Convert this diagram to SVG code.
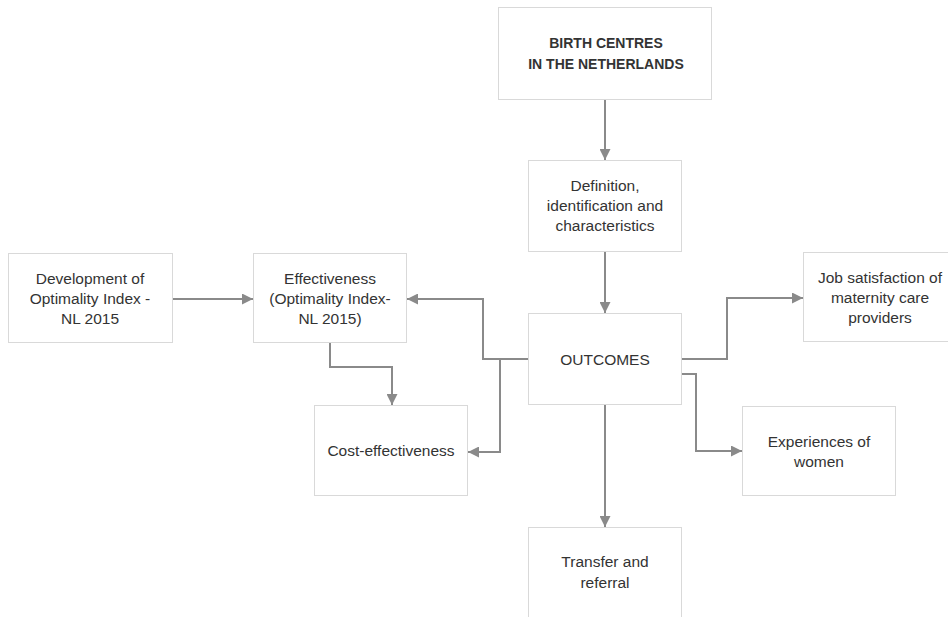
<svg xmlns="http://www.w3.org/2000/svg" width="948" height="617" viewBox="0 0 948 617">
<style>
.box{fill:#fff;stroke:#d9d9d9;stroke-width:1}
.t{font-family:"Liberation Sans",Arial,sans-serif;font-size:15.5px;fill:#333;text-anchor:middle}
.b{font-weight:bold;font-size:14px}
.c{fill:none;stroke:#8a8a8a;stroke-width:2}
</style>
<defs>
<marker id="ah" markerUnits="userSpaceOnUse" markerWidth="11" markerHeight="11" refX="10" refY="5" orient="auto" viewBox="0 0 10 10">
<path d="M0,0 L10,5 L0,10 z" fill="#8a8a8a"/>
</marker>
</defs>
<rect width="948" height="617" fill="#fff"/>
<g id="connectors">
<path class="c" d="M605,99 V160" marker-end="url(#ah)"/>
<path class="c" d="M605,252 V313" marker-end="url(#ah)"/>
<path class="c" d="M173,299 H253" marker-end="url(#ah)"/>
<path class="c" d="M528,359 H483 V299 H407" marker-end="url(#ah)"/>
<path class="c" d="M500,359 V452 H468" marker-end="url(#ah)"/>
<path class="c" d="M330,343 V367 H392 V405" marker-end="url(#ah)"/>
<path class="c" d="M682,359 H727 V298 H803" marker-end="url(#ah)"/>
<path class="c" d="M682,374 H696 V451 H742" marker-end="url(#ah)"/>
<path class="c" d="M605,405 V527" marker-end="url(#ah)"/>
</g>
<g id="birth-centres">
<rect class="box" x="498.5" y="7.5" width="213" height="92"/>
<text class="t b" x="606" y="48">BIRTH CENTRES</text>
<text class="t b" x="606" y="69">IN THE NETHERLANDS</text>
</g>
<g id="definition">
<rect class="box" x="528.5" y="160.5" width="153" height="91"/>
<text class="t" x="605" y="191">Definition,</text>
<text class="t" x="605" y="211">identification and</text>
<text class="t" x="605" y="231">characteristics</text>
</g>
<g id="development">
<rect class="box" x="8.5" y="253.5" width="164" height="89"/>
<text class="t" x="90" y="284">Development of</text>
<text class="t" x="90" y="304">Optimality Index -</text>
<text class="t" x="90" y="324">NL 2015</text>
</g>
<g id="effectiveness">
<rect class="box" x="253.5" y="253.5" width="153" height="89"/>
<text class="t" x="330" y="284">Effectiveness</text>
<text class="t" x="330" y="304">(Optimality Index-</text>
<text class="t" x="330" y="324">NL 2015)</text>
</g>
<g id="outcomes">
<rect class="box" x="528.5" y="313.5" width="153" height="91"/>
<text class="t" x="605" y="364.5">OUTCOMES</text>
</g>
<g id="job-satisfaction">
<rect class="box" x="803.5" y="252.5" width="154" height="89"/>
<text class="t" x="880" y="283">Job satisfaction of</text>
<text class="t" x="880" y="303">maternity care</text>
<text class="t" x="880" y="323">providers</text>
</g>
<g id="cost-effectiveness">
<rect class="box" x="314.5" y="405.5" width="153" height="90"/>
<text class="t" x="391" y="456">Cost-effectiveness</text>
</g>
<g id="experiences">
<rect class="box" x="742.5" y="406.5" width="153" height="89"/>
<text class="t" x="819" y="447">Experiences of</text>
<text class="t" x="819" y="467">women</text>
</g>
<g id="transfer">
<rect class="box" x="528.5" y="527.5" width="153" height="100"/>
<text class="t" x="605" y="567">Transfer and</text>
<text class="t" x="605" y="588">referral</text>
</g>
</svg>
